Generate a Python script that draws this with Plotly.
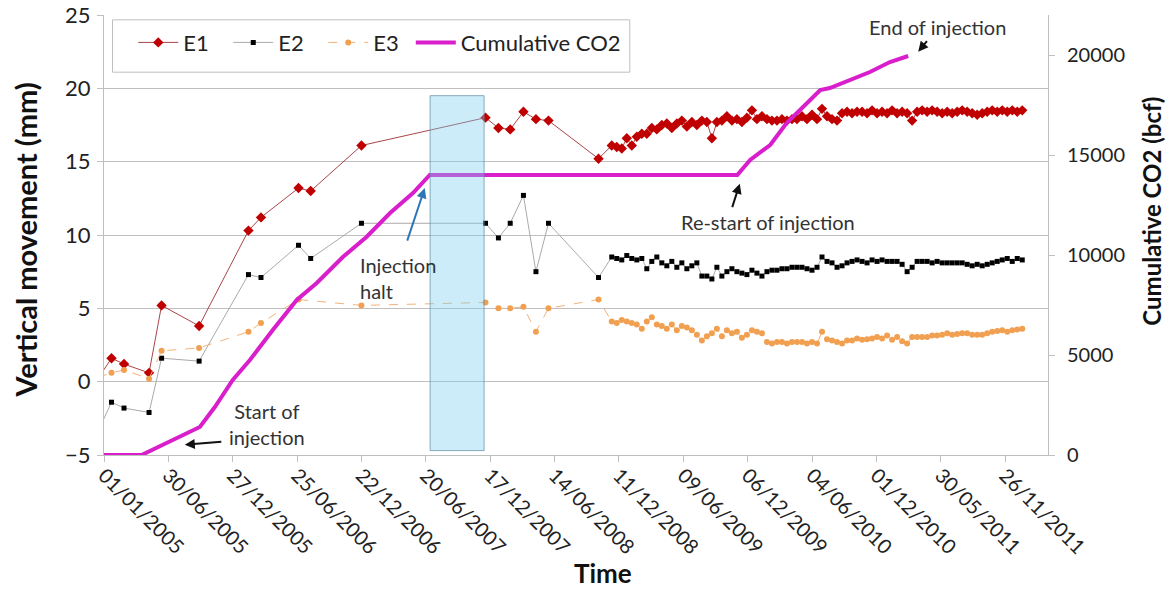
import pandas as pd
import plotly.graph_objects as go

FONT = "Lato"

# ---------------- data ----------------
tick_labels = ["01/01/2005", "30/06/2005", "27/12/2005", "25/06/2006", "22/12/2006",
               "20/06/2007", "17/12/2007", "14/06/2008", "11/12/2008", "09/06/2009",
               "06/12/2009", "04/06/2010", "01/12/2010", "30/05/2011", "26/11/2011"]

# value just before the axis start (line enters from the left edge)
pre_date = "2004-12-15"
e1_pre, e2_pre, e3_pre = 0.2, -3.4, 0.3

sparse_dates = ["2005-01-22", "2005-02-26", "2005-05-07", "2005-06-11", "2005-09-24",
                "2006-02-09", "2006-03-16", "2006-06-29", "2006-08-02", "2006-12-22",
                "2007-12-04", "2008-01-09", "2008-02-11", "2008-03-19", "2008-04-23",
                "2008-05-28", "2008-10-15"]
e1_sparse = [1.6, 1.2, 0.6, 5.2, 3.8, 10.3, 11.2, 13.2, 13.0, 16.1,
             18.0, 17.3, 17.2, 18.4, 17.9, 17.8, 15.2]
e2_sparse = [-1.4, -1.8, -2.1, 1.6, 1.4, 7.3, 7.1, 9.3, 8.4, 10.8,
             10.8, 9.8, 10.8, 12.7, 7.5, 10.8, 7.1]
e3_sparse = [0.6, 0.8, 0.2, 2.1, 2.3, 3.4, 4.0, 5.6, None, 5.2,
             5.4, 5.0, 5.0, 5.1, 3.4, 5.0, 5.6]

# regular survey period (every 14 days)
dense_start = "2008-11-21"
dense_step = "14D"
e1_dense = [16.1, 16.0, 15.9, 16.6, 16.1, 16.7, 16.9, 16.9, 17.3, 17.2,
            17.5, 17.6, 17.3, 17.6, 17.8, 17.4, 17.7, 17.5, 17.8, 17.7,
            16.6, 17.7, 17.8, 18.1, 17.8, 17.9, 17.7, 18.0, 18.5, 17.9,
            18.1, 17.9, 17.8, 17.8, 17.9, 17.8, 17.9, 17.9, 18.1, 17.9,
            18.2, 17.9, 18.6, 18.1, 17.9, 17.8, 18.3, 18.4, 18.3, 18.4,
            18.4, 18.3, 18.5, 18.3, 18.4, 18.3, 18.5, 18.3, 18.4, 18.3,
            17.8, 18.4, 18.5, 18.4, 18.5, 18.4, 18.3, 18.4, 18.3, 18.4,
            18.5, 18.4, 18.3, 18.2, 18.3, 18.4, 18.5, 18.4, 18.5, 18.4,
            18.5, 18.4, 18.5]
e2_dense = [8.5, 8.4, 8.3, 8.6, 8.4, 8.3, 8.4, 7.7, 8.2, 8.5,
            8.1, 7.9, 8.2, 7.8, 8.1, 7.7, 7.9, 8.1, 7.2, 7.2,
            7.0, 7.8, 7.2, 7.5, 7.7, 7.5, 7.4, 7.3, 7.6, 7.4,
            7.2, 7.5, 7.6, 7.6, 7.7, 7.7, 7.8, 7.8, 7.8, 7.7,
            7.6, 7.8, 8.5, 8.2, 8.1, 7.8, 7.9, 8.1, 8.2, 8.3,
            8.2, 8.1, 8.3, 8.2, 8.3, 8.2, 8.2, 8.2, 8.0, 7.5,
            7.8, 8.2, 8.2, 8.2, 8.1, 8.2, 8.1, 8.1, 8.1, 8.1,
            8.1, 8.0, 7.9, 8.0, 7.9, 8.0, 8.1, 8.2, 8.3, 8.4,
            8.2, 8.4, 8.3]
e3_dense = [4.1, 4.0, 4.2, 4.1, 4.0, 3.9, 3.6, 4.1, 4.4, 3.9,
            3.8, 3.6, 3.9, 3.5, 3.8, 3.7, 3.5, 3.2, 2.8, 3.1,
            3.3, 3.6, 3.1, 3.5, 3.3, 3.4, 3.0, 3.2, 3.5, 3.4,
            3.3, 2.7, 2.6, 2.7, 2.7, 2.6, 2.7, 2.7, 2.7, 2.6,
            2.7, 2.6, 3.4, 2.9, 2.8, 2.7, 2.6, 2.8, 2.8, 2.95,
            2.85, 2.9, 2.95, 3.05, 2.95, 3.15, 2.85, 3.05, 2.75, 2.6,
            3.05, 3.05, 3.05, 3.05, 3.15, 3.15, 3.2, 3.3, 3.2, 3.25,
            3.3, 3.3, 3.2, 3.2, 3.2, 3.3, 3.4, 3.45, 3.5, 3.4,
            3.5, 3.55, 3.6]

co2_dates = ["2005-01-01", "2005-04-16", "2005-09-26", "2005-11-07", "2005-12-27",
             "2006-02-13", "2006-04-18", "2006-06-24", "2006-08-19", "2006-10-31",
             "2007-01-05", "2007-03-12", "2007-05-15", "2007-07-01", "2009-11-07",
             "2009-12-13", "2010-02-07", "2010-03-25", "2010-05-10", "2010-06-27",
             "2010-07-24", "2010-09-18", "2010-11-13", "2011-01-08", "2011-02-28"]
co2_values = [0, 0, 1400, 2400, 3750, 4750, 6250, 7750, 8600, 9900,
              10900, 12100, 13100, 14000, 14000, 14750, 15500, 16600, 17400, 18250,
              18350, 18750, 19150, 19650, 19950]

halt_start, halt_end = "2007-07-02", "2007-11-30"
halt_low, halt_high = -4.7, 19.5

# ---------------- build ----------------
dense_dates = pd.date_range(dense_start, periods=len(e1_dense), freq=dense_step)
all_dates = [pd.Timestamp(pre_date)] + [pd.Timestamp(d) for d in sparse_dates] + list(dense_dates)
e1 = [e1_pre] + e1_sparse + e1_dense
e2 = [e2_pre] + e2_sparse + e2_dense
e3 = [e3_pre] + e3_sparse + e3_dense
tick_vals = pd.to_datetime(tick_labels, format="%d/%m/%Y")

fig = go.Figure()
fig.add_trace(go.Scatter(x=all_dates, y=e1, name="E1", mode="lines+markers", legend="legend",
                         line=dict(color="#A8454A", width=1),
                         marker=dict(symbol="diamond", size=8, color="#C00000")))
fig.add_trace(go.Scatter(x=all_dates, y=e2, name="E2", mode="lines+markers", legend="legend",
                         line=dict(color="#AAAAAA", width=1),
                         marker=dict(symbol="square", size=5, color="#000000")))
fig.add_trace(go.Scatter(x=all_dates, y=e3, name="E3", mode="lines+markers", connectgaps=True,
                         legend="legend",
                         line=dict(color="#F2B27A", width=1, dash="dash"),
                         marker=dict(symbol="circle", size=6, color="#F0A050")))
fig.add_trace(go.Scatter(x=pd.to_datetime(co2_dates), y=co2_values, name="Cumulative CO2",
                         mode="lines", yaxis="y2", legend="legend2",
                         line=dict(color="#D91ECB", width=4)))

# injection-halt box
fig.add_shape(type="rect", xref="x", yref="y", x0=halt_start, x1=halt_end,
              y0=halt_low, y1=halt_high, layer="above",
              fillcolor="rgba(120,205,240,0.38)", line=dict(color="rgba(90,140,160,0.7)", width=1))

# legend frame
fig.add_shape(type="rect", xref="paper", yref="paper", x0=0.009, x1=0.557, y0=0.87, y1=0.989,
              layer="below", fillcolor="white", line=dict(color="#BFBFBF", width=1))

grid = "#BFBFBF"
leg_common = dict(orientation="h", y=0.985, xanchor="left", yanchor="top",
                  bgcolor="rgba(0,0,0,0)", borderwidth=0, font=dict(size=22),
                  itemwidth=40, traceorder="normal")
fig.update_layout(
    width=1169, height=589,
    margin=dict(l=104, r=121, t=15, b=134, autoexpand=False),
    paper_bgcolor="white", plot_bgcolor="white",
    font=dict(family=FONT, size=18, color="#222222"),
    showlegend=True,
    legend=dict(x=0.031, entrywidth=40, entrywidthmode="pixels", **leg_common),
    legend2=dict(x=0.325, **leg_common),
    xaxis=dict(type="date", range=["2005-01-01", "2012-03-25"], automargin=False,
               tickvals=tick_vals, ticktext=tick_labels, tickangle=45,
               showgrid=False, showline=True, linecolor=grid, linewidth=1,
               ticks="outside", ticklen=6, tickcolor=grid, zeroline=False,
               tickfont=dict(size=20), ticklabelstandoff=-6),
    yaxis=dict(range=[-5, 25], tickvals=[-5, 0, 5, 10, 15, 20, 25], automargin=False,
               showgrid=True, gridcolor=grid, gridwidth=1, zeroline=False,
               showline=True, linecolor=grid, ticks="outside", ticklen=6, tickcolor=grid,
               tickfont=dict(size=22), ticklabelstandoff=2),
    yaxis2=dict(range=[0, 22000], tickvals=[0, 5000, 10000, 15000, 20000], tickformat="d",
                overlaying="y", side="right", showgrid=False, zeroline=False, automargin=False,
                showline=True, linecolor=grid, ticks="outside", ticklen=6, tickcolor=grid,
                tickfont=dict(size=20), ticklabelstandoff=8),
)

ann = dict(showarrow=False, font=dict(family=FONT, size=20, color="#333333"))
fig.add_annotation(text="<b>Vertical movement (mm)</b>", xref="paper", yref="paper",
                   x=-0.083, y=0.489, xanchor="center", yanchor="middle", textangle=-90,
                   font=dict(family=FONT, size=29, color="#111111"), showarrow=False)
fig.add_annotation(text="<b>Cumulative CO2 (bcf)</b>", xref="paper", yref="paper",
                   x=1.110, y=0.555, xanchor="center", yanchor="middle", textangle=-90,
                   font=dict(family=FONT, size=24, color="#111111"), showarrow=False)
fig.add_annotation(text="<b>Time</b>", xref="paper", yref="paper",
                   x=0.529, y=-0.268, xanchor="center", yanchor="middle",
                   font=dict(family=FONT, size=26, color="#111111"), showarrow=False)

# text labels
fig.add_annotation(text="Start of<br>injection", xref="x", yref="y", x="2006-04-01", y=-2.9,
                   xanchor="center", yanchor="middle", align="center", **ann)
fig.add_annotation(text="Injection<br>halt", xref="x", yref="y", x="2006-12-11", y=7.1,
                   xanchor="left", yanchor="middle", align="left", **ann)
fig.add_annotation(text="Re-start of injection", xref="x", yref="y", x="2010-02-01", y=10.9,
                   xanchor="center", yanchor="middle", **ann)
fig.add_annotation(text="End of injection", xref="x", yref="y", x="2011-05-20", y=24.2,
                   xanchor="center", yanchor="middle", **ann)

# arrows
fig.add_annotation(x="2005-08-15", y=-4.3, xref="x", yref="y", text="", showarrow=True,
                   ax=38, ay=-3, arrowhead=2, arrowsize=1, arrowwidth=2, arrowcolor="#111111")
fig.add_annotation(x="2007-06-17", y=13.2, xref="x", yref="y", text="", showarrow=True,
                   ax=-18, ay=54, arrowhead=2, arrowsize=1, arrowwidth=2, arrowcolor="#2E75B6")
fig.add_annotation(x="2009-11-14", y=13.5, xref="x", yref="y", text="", showarrow=True,
                   ax=-8, ay=25, arrowhead=2, arrowsize=1, arrowwidth=2, arrowcolor="#111111")
fig.add_annotation(x="2011-03-28", y=22.5, xref="x", yref="y", text="", showarrow=True,
                   ax=10, ay=-12, arrowhead=2, arrowsize=1, arrowwidth=2, arrowcolor="#111111")

fig.write_html("out.html")
